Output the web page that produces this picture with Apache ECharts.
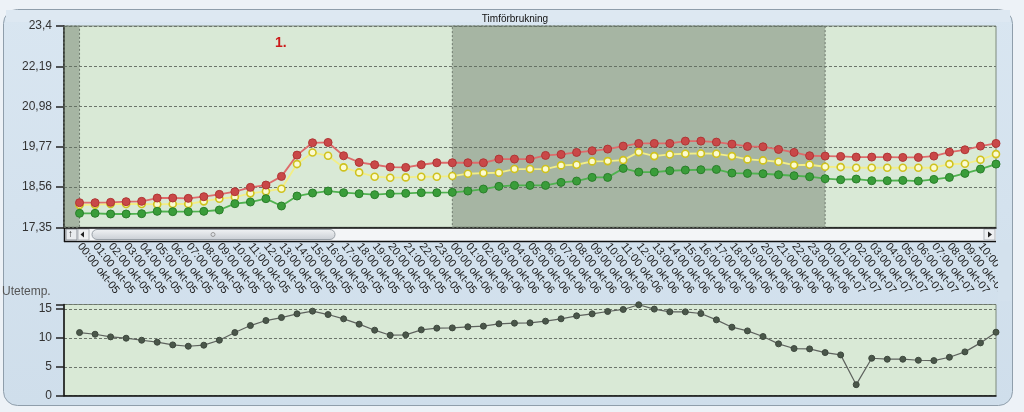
<!DOCTYPE html>
<html><head><meta charset="utf-8">
<script src="https://cdn.jsdelivr.net/npm/echarts@6/dist/echarts.min.js"></script>
<style>html,body{margin:0;padding:0;background:#edf2f7;}#c{width:1024px;height:412px;}</style>
</head><body><div id="c"></div>
<script>
const xLabels = [
"00:00 okt-05","01:00 okt-05","02:00 okt-05","03:00 okt-05","04:00 okt-05","05:00 okt-05","06:00 okt-05","07:00 okt-05","08:00 okt-05","09:00 okt-05","10:00 okt-05","11:00 okt-05","12:00 okt-05","13:00 okt-05","14:00 okt-05","15:00 okt-05","16:00 okt-05","17:00 okt-05","18:00 okt-05","19:00 okt-05","20:00 okt-05","21:00 okt-05","22:00 okt-05","23:00 okt-05",
"00:00 okt-06","01:00 okt-06","02:00 okt-06","03:00 okt-06","04:00 okt-06","05:00 okt-06","06:00 okt-06","07:00 okt-06","08:00 okt-06","09:00 okt-06","10:00 okt-06","11:00 okt-06","12:00 okt-06","13:00 okt-06","14:00 okt-06","15:00 okt-06","16:00 okt-06","17:00 okt-06","18:00 okt-06","19:00 okt-06","20:00 okt-06","21:00 okt-06","22:00 okt-06","23:00 okt-06",
"00:00 okt-07","01:00 okt-07","02:00 okt-07","03:00 okt-07","04:00 okt-07","05:00 okt-07","06:00 okt-07","07:00 okt-07","08:00 okt-07","09:00 okt-07","10:00 okt-07","11:00 okt-07"];
const redSeries = [18.09,18.09,18.10,18.12,18.13,18.23,18.23,18.22,18.27,18.34,18.42,18.55,18.62,18.88,19.52,19.89,19.90,
19.50,19.30,19.23,19.16,19.15,19.23,19.29,19.29,19.29,19.29,19.40,19.40,19.40,19.51,19.54,19.60,19.65,19.70,19.79,19.87,19.87,19.87,
19.94,19.94,19.91,19.85,19.78,19.77,19.69,19.60,19.50,19.49,19.48,19.46,19.46,19.46,19.45,19.45,19.49,19.61,19.68,19.79,19.87];
const yellowSeries = [18.02,18.03,18.05,18.05,18.05,18.04,18.05,18.05,18.13,18.21,18.26,18.37,18.43,18.51,19.25,19.60,19.50,
19.15,19.00,18.87,18.84,18.85,18.87,18.87,18.89,18.96,18.98,18.99,19.10,19.10,19.10,19.21,19.23,19.33,19.34,19.37,19.61,19.49,19.54,
19.56,19.57,19.56,19.49,19.39,19.36,19.32,19.22,19.23,19.17,19.16,19.14,19.14,19.14,19.14,19.14,19.14,19.25,19.26,19.38,19.55];
const greenSeries = [17.77,17.77,17.75,17.75,17.76,17.83,17.82,17.82,17.83,17.87,18.06,18.11,18.21,17.99,18.29,18.38,18.44,
18.39,18.36,18.33,18.36,18.37,18.39,18.39,18.40,18.44,18.50,18.58,18.61,18.61,18.61,18.70,18.74,18.85,18.85,19.12,19.01,19.01,19.05,
19.07,19.08,19.09,18.98,18.97,18.96,18.93,18.90,18.87,18.81,18.78,18.80,18.75,18.75,18.76,18.74,18.79,18.85,18.97,19.10,19.25];
const utetemp = [10.94,10.65,10.19,9.96,9.61,9.27,8.80,8.57,8.75,9.61,10.94,12.15,13.02,13.54,14.18,14.65,14.06,13.32,12.39,11.35,
10.48,10.54,11.41,11.70,11.75,11.93,12.05,12.45,12.56,12.62,12.91,13.32,13.84,14.18,14.59,14.94,15.75,15.00,14.53,14.53,
14.24,13.14,11.87,11.23,10.25,8.98,8.17,8.11,7.47,7.07,1.91,6.49,6.32,6.32,6.14,6.08,6.66,7.59,9.15,11.0];
const dayBands = [[-1, 0], [24, 48]];
const topTicks = [17.35, 18.56, 19.77, 20.98, 22.19, 23.4];
const bottomTicks = [0, 5, 10, 15];

const toXY = arr => arr.map((v, i) => [i, v]);
const chart = echarts.init(document.getElementById('c'));
const FONT = 'Liberation Sans, Arial, sans-serif';
const gridLine = {show: true, lineStyle: {color: '#6c756b', type: [3, 2], width: 1}};
const X_MIN = -1, X_MAX = 59;

chart.setOption({
  animation: false,
  textStyle: {fontFamily: FONT},
  title: {text: 'Timförbrukning', left: 510, textAlign: 'center', top: 9,
    textStyle: {fontSize: 10, fontWeight: 'normal', color: '#111', fontFamily: FONT}},
  graphic: [
    {type: 'rect', z: -10, shape: {x: 3.5, y: 9.5, width: 1009, height: 396, r: 14},
      style: {fill: new echarts.graphic.LinearGradient(0, 0, 0, 1, [{offset: 0, color: '#d9e6f1'}, {offset: 1, color: '#cfdeeb'}]), stroke: '#8f9eab', lineWidth: 1}},
    {type: 'rect', z: -9, shape: {x: 6, y: 10, width: 1004, height: 12},
      style: {fill: '#dde8f2'}},
    {type: 'text', x: 275, y: 36, style: {text: '1.', fill: '#cc1a1a', font: 'bold 14px ' + FONT}},
    {type: 'text', x: 2, y: 286, style: {text: 'Utetemp.', fill: '#555', font: '12px ' + FONT}},
    // scrollbar
    {type: 'rect', shape: {x: 64, y: 228, width: 932, height: 13}, style: {fill: '#f3f5f7', stroke: null}},
    {type: 'line', shape: {x1: 64, y1: 241.5, x2: 996, y2: 241.5}, style: {stroke: '#111', lineWidth: 1.5}},
    {type: 'line', shape: {x1: 64.5, y1: 226, x2: 64.5, y2: 242}, style: {stroke: '#111', lineWidth: 1.5}},
    {type: 'rect', shape: {x: 66, y: 229, width: 11, height: 11}, style: {fill: '#e9ecef', stroke: '#8a9097'}},
    {type: 'text', x: 68, y: 229, style: {text: '↑', fill: '#111', font: 'bold 10px ' + FONT}},
    {type: 'rect', shape: {x: 78, y: 229, width: 11, height: 11}, style: {fill: '#eef0f2', stroke: '#b0b5ba'}},
    {type: 'polygon', shape: {points: [[80.5, 234.5], [84, 231.5], [84, 237.5]]}, style: {fill: '#222'}},
    {type: 'rect', shape: {x: 92, y: 229.5, width: 243, height: 10, r: 5},
      style: {fill: new echarts.graphic.LinearGradient(0, 0, 0, 1, [{offset: 0, color: '#f1f3f5'}, {offset: 1, color: '#c9ced4'}]), stroke: '#9aa1a8'}},
    {type: 'circle', shape: {cx: 213, cy: 234.5, r: 2}, style: {fill: 'none', stroke: '#999'}},
    {type: 'rect', shape: {x: 984, y: 229, width: 11, height: 11}, style: {fill: '#eef0f2', stroke: '#b0b5ba'}},
    {type: 'polygon', shape: {points: [[992, 234.5], [988, 231.5], [988, 237.5]]}, style: {fill: '#222'}},
    // clip of labels at panel right edge
    {type: 'rect', z: 100, shape: {x: 998, y: 243, width: 14, height: 58}, style: {fill: '#d3e1ed'}},
    {type: 'rect', z: 100, shape: {x: 1013, y: 243, width: 11, height: 58}, style: {fill: '#edf2f7'}},
    {type: 'line', z: 101, shape: {x1: 1012.5, y1: 243, x2: 1012.5, y2: 301}, style: {stroke: '#8f9eab', lineWidth: 1}}
  ],
  grid: [
    {left: 64, top: 26, width: 932, height: 201.3, outerBoundsMode: 'none', containLabel: false,
      show: true, backgroundColor: '#d9e9d6', borderColor: '#7d8a7d', borderWidth: 1},
    {left: 64, top: 304.5, width: 932, height: 91.2, outerBoundsMode: 'none', containLabel: false,
      show: true, backgroundColor: '#d9e9d6', borderColor: '#7d8a7d', borderWidth: 1}
  ],
  xAxis: [
    {type: 'value', gridIndex: 0, min: X_MIN, max: X_MAX, interval: 1,
      axisLine: {show: true, onZero: false, lineStyle: {color: '#111', width: 1.5}},
      axisTick: {show: false}, splitLine: {show: false},
      axisLabel: {show: true, rotate: -52, margin: 17, fontSize: 11, color: '#222', fontFamily: FONT,
        formatter: v => (Number.isInteger(v) && v >= 0 && v < xLabels.length - 1) ? xLabels[v] : ''}},
    {type: 'value', gridIndex: 1, min: X_MIN, max: X_MAX, interval: 1,
      axisLine: {show: true, onZero: false, lineStyle: {color: '#111', width: 1.5}},
      axisTick: {show: false}, splitLine: {show: false}, axisLabel: {show: false}}
  ],
  yAxis: [
    {type: 'value', gridIndex: 0, min: topTicks[0], max: topTicks[topTicks.length - 1], interval: 1.21,
      axisLine: {show: true, onZero: false, lineStyle: {color: '#111', width: 1.5}},
      axisTick: {show: true, length: 8, lineStyle: {color: '#222', width: 1.5}},
      splitLine: gridLine,
      axisLabel: {fontSize: 12, color: '#333', margin: 12, fontFamily: FONT,
        formatter: v => String(Number(v.toFixed(2))).replace('.', ',')}},
    {type: 'value', gridIndex: 1, min: 0, max: 15.8, interval: 5,
      axisLine: {show: true, onZero: false, lineStyle: {color: '#111', width: 1.5}},
      axisTick: {show: true, length: 8, lineStyle: {color: '#222', width: 1.5}},
      splitLine: gridLine,
      axisLabel: {fontSize: 12, color: '#333', margin: 12, fontFamily: FONT,
        formatter: v => bottomTicks.indexOf(v) >= 0 ? String(v) : ''}}
  ],
  series: [
    {type: 'line', xAxisIndex: 0, yAxisIndex: 0, data: [], silent: true,
      markArea: {silent: true, itemStyle: {color: 'rgba(95,110,92,0.42)', borderColor: '#6f7a6e', borderWidth: 1, borderType: [2, 2]},
        data: dayBands.map(b => [{xAxis: b[0]}, {xAxis: b[1]}])}},
    {name: 'yellow', type: 'line', xAxisIndex: 0, yAxisIndex: 0, data: toXY(yellowSeries),
      symbol: 'circle', symbolSize: 7,
      lineStyle: {color: '#f2ee86', width: 1.8},
      itemStyle: {color: '#fbfbd0', borderColor: '#cfc21e', borderWidth: 1.6}},
    {name: 'red', type: 'line', xAxisIndex: 0, yAxisIndex: 0, data: toXY(redSeries),
      symbol: 'circle', symbolSize: 8,
      lineStyle: {color: '#de6b6b', width: 1.8},
      itemStyle: {color: '#c94848', borderColor: '#b03535', borderWidth: 1}},
    {name: 'green', type: 'line', xAxisIndex: 0, yAxisIndex: 0, data: toXY(greenSeries),
      symbol: 'circle', symbolSize: 8,
      lineStyle: {color: '#4fb24f', width: 1.8},
      itemStyle: {color: '#3a9d3a', borderColor: '#2a7f2a', borderWidth: 1}},
    {name: 'Utetemp', type: 'line', xAxisIndex: 1, yAxisIndex: 1, data: toXY(utetemp),
      symbol: 'circle', symbolSize: 6,
      lineStyle: {color: '#5e625e', width: 1.2},
      itemStyle: {color: '#4a574a', borderColor: '#3e483e', borderWidth: 1}}
  ]
});
</script>
</body></html>
